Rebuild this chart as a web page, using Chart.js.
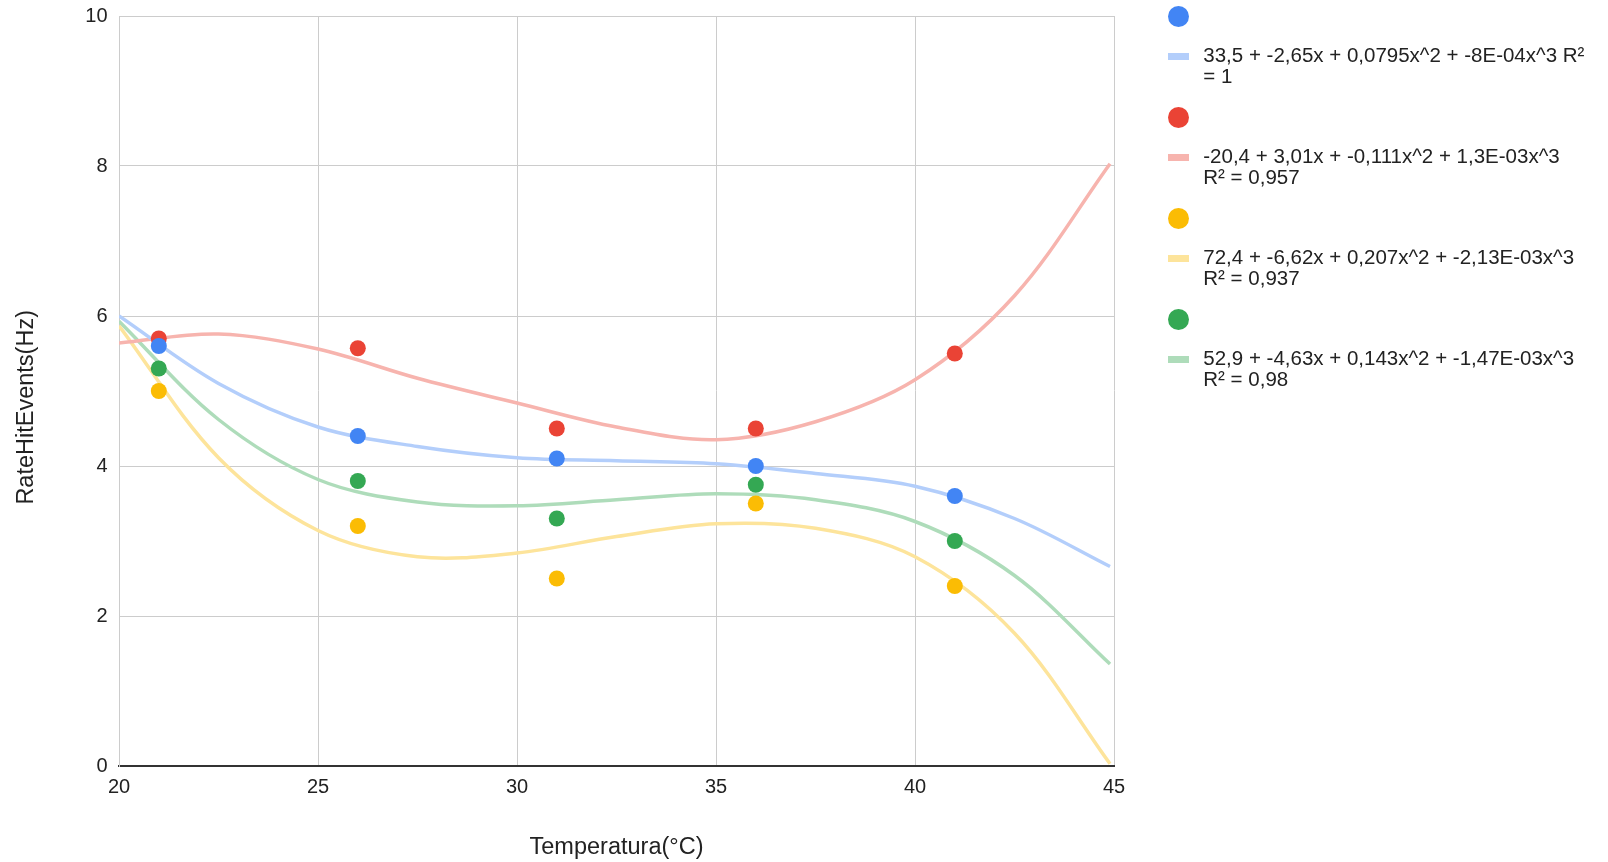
<!DOCTYPE html>
<html>
<head>
<meta charset="utf-8">
<script src="https://cdn.jsdelivr.net/npm/chart.js@4.4.1/dist/chart.umd.min.js"></script>
<style>
  html, body { margin: 0; padding: 0; background: #fff; }
  #wrap { position: relative; width: 1608px; height: 862px; }
  #legend { position: absolute; left: 0; top: 0; font-family: Arial, "Liberation Sans", sans-serif; font-size: 20.5px; color: #222; }
  .dot { position: absolute; width: 21px; height: 21px; border-radius: 50%; }
  .bar { position: absolute; width: 21px; height: 7px; }
  .txt { position: absolute; line-height: 20.7px; white-space: nowrap; }
</style>
</head>
<body>
<div id="wrap">
  <canvas id="scatterChart" width="1608" height="862"></canvas>
  <div id="legend"></div>
</div>
<script>
// measured points
const temps = [21, 26, 31, 36, 41];
const blueRate = [5.6, 4.4, 4.1, 4.0, 3.6];
const redRate = [5.7, 5.57, 4.5, 4.5, 5.5];
const yellowRate = [5.0, 3.2, 2.5, 3.5, 2.4];
const greenRate = [5.3, 3.8, 3.3, 3.75, 3.0];

// trend curves
const trendTemps = [20, 22.5, 25, 27.5, 30, 32.5, 35, 37.5, 40, 42.5, 44.9];
const blueTrend = [6.0, 5.1, 4.52, 4.26, 4.11, 4.07, 4.03, 3.9, 3.73, 3.3, 2.66];
const redTrend = [5.64, 5.76, 5.56, 5.17, 4.84, 4.52, 4.35, 4.59, 5.15, 6.27, 8.03];
const yellowTrend = [5.87, 4.11, 3.14, 2.79, 2.84, 3.06, 3.23, 3.17, 2.79, 1.77, 0.03];
const greenTrend = [5.93, 4.62, 3.82, 3.52, 3.47, 3.55, 3.63, 3.55, 3.26, 2.54, 1.36];

const xTickValues = [20, 25, 30, 35, 40, 45];
const yTickValues = [0, 2, 4, 6, 8, 10];

const trendLabels = [
    ['33,5 + -2,65x + 0,0795x^2 + -8E-04x^3 R²', '= 1'],
    ['-20,4 + 3,01x + -0,111x^2 + 1,3E-03x^3', 'R² = 0,957'],
    ['72,4 + -6,62x + 0,207x^2 + -2,13E-03x^3', 'R² = 0,937'],
    ['52,9 + -4,63x + 0,143x^2 + -1,47E-03x^3', 'R² = 0,98']
];

const pointColors = ['#4285f4', '#ea4335', '#fbbc04', '#34a853'];
const trendColors = ['#b3cefb', '#f7b4ae', '#fde49b', '#aedcba'];

const FONT = 'Arial, "Liberation Sans", sans-serif';

function toXY(xs, ys) {
    return xs.map((x, i) => ({x: x, y: ys[i]}));
}

const pointSets = [blueRate, redRate, yellowRate, greenRate];
const trendSets = [blueTrend, redTrend, yellowTrend, greenTrend];

const datasets = [];
pointSets.forEach((ys, i) => {
    datasets.push({
        label: 'points' + i,
        data: toXY(temps, ys),
        backgroundColor: pointColors[i],
        borderWidth: 0,
        pointRadius: 8,
        order: 0
    });
});
trendSets.forEach((ys, i) => {
    datasets.push({
        label: trendLabels[i].join(' '),
        data: toXY(trendTemps, ys),
        showLine: true,
        borderColor: trendColors[i],
        borderWidth: 3.5,
        pointRadius: 0,
        tension: 0.34,
        order: 1
    });
});

const config = {
    type: 'scatter',
    data: {datasets: datasets},
    options: {
        responsive: false,
        animation: false,
        layout: {padding: {top: 16, right: 494, bottom: 0, left: 0}},
        plugins: {
            legend: {display: false},
            tooltip: {enabled: false}
        },
        scales: {
            x: {
                type: 'linear',
                min: 20,
                max: 45,
                afterBuildTicks: s => { s.ticks = xTickValues.map(v => ({value: v})); },
                afterFit: s => { s.height = 96; s.paddingLeft = 0; s.paddingRight = 0; },
                grid: {color: '#cccccc', lineWidth: 1, drawTicks: false},
                border: {color: '#333333', width: 2},
                ticks: {padding: 9, color: '#222', font: {family: FONT, size: 20}},
                title: {
                    display: true,
                    text: 'Temperatura(°C)',
                    color: '#222',
                    font: {family: FONT, size: 23.5},
                    padding: {top: 30, bottom: 0}
                }
            },
            y: {
                min: 0,
                max: 10,
                afterBuildTicks: s => { s.ticks = yTickValues.map(v => ({value: v})); },
                afterFit: s => { s.width = 119; s.paddingTop = 0; s.paddingBottom = 0; },
                grid: {
                    color: ctx => ctx.tick && ctx.tick.value === 0 ? '#333333' : '#cccccc',
                    lineWidth: ctx => ctx.tick && ctx.tick.value === 0 ? 2 : 1,
                    drawTicks: false
                },
                border: {color: '#cccccc', width: 1},
                ticks: {padding: 11.5, color: '#222', font: {family: FONT, size: 20}},
                title: {
                    display: true,
                    text: 'RateHitEvents(Hz)     ',
                    color: '#222',
                    font: {family: FONT, size: 23.5},
                    padding: {top: 12, bottom: 0}
                }
            }
        }
    }
};

let scatterChart = new Chart(document.getElementById('scatterChart'), config);

// legend on the right, built from the same colours and labels
const legend = document.getElementById('legend');
trendLabels.forEach((lines, i) => {
    const step = 101 * i;
    const dot = document.createElement('div');
    dot.className = 'dot';
    dot.style.left = '1168.2px';
    dot.style.top = (6.2 + step) + 'px';
    dot.style.background = pointColors[i];
    legend.appendChild(dot);

    const bar = document.createElement('div');
    bar.className = 'bar';
    bar.style.left = '1168.3px';
    bar.style.top = (53.2 + step) + 'px';
    bar.style.background = trendColors[i];
    legend.appendChild(bar);

    const txt = document.createElement('div');
    txt.className = 'txt';
    txt.style.left = '1203.3px';
    txt.style.top = (45.4 + step) + 'px';
    lines.forEach((line, j) => {
        if (j > 0) txt.appendChild(document.createElement('br'));
        txt.appendChild(document.createTextNode(line));
    });
    legend.appendChild(txt);
});
</script>
</body>
</html>
